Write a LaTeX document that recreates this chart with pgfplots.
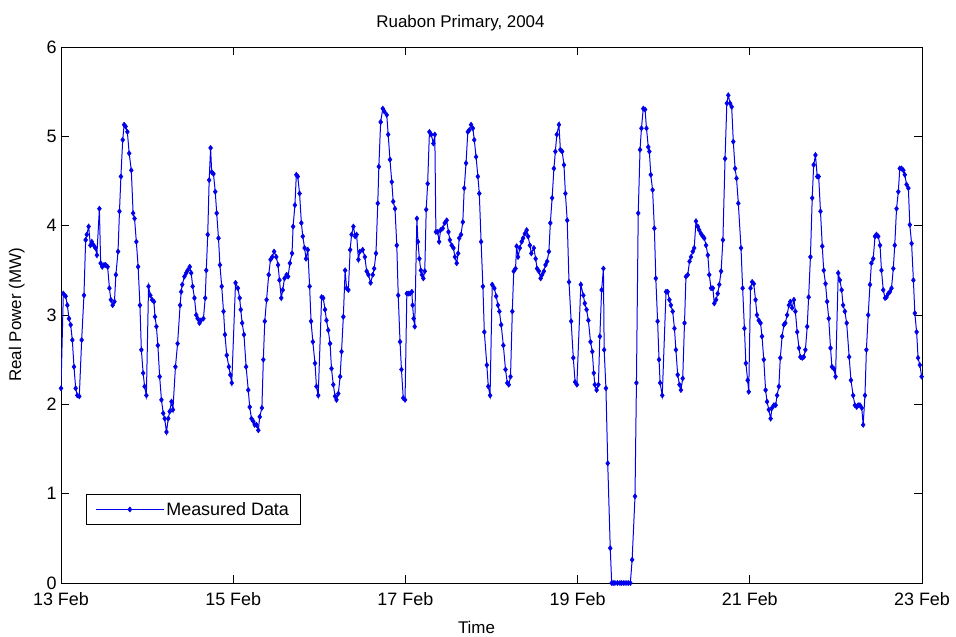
\documentclass[border=0pt]{standalone}
\usepackage{fontspec}
\setmainfont{Liberation Sans}
\usepackage{pgfplots}
\pgfplotsset{compat=1.18}
\definecolor{matblue}{RGB}{0,0,235}

\begin{document}
\begin{tikzpicture}
\begin{axis}[
  scale only axis, width=861bp, height=536bp,
  xmin=0, xmax=240, ymin=0, ymax=6,
  xtick={0,48,96,144,192,240},
  xticklabels={13 Feb,15 Feb,17 Feb,19 Feb,21 Feb,23 Feb},
  ytick={0,1,2,3,4,5,6},
  tick align=inside, tick pos=both, major tick length=8bp,
  axis line style={line width=0.8bp}, tick style={line width=0.8bp, black},
  /pgf/number format/assume math mode=true,
  font=\fontsize{17}{20}\selectfont,
  tick label style={font=\fontsize{18}{21}\selectfont},
  xticklabel style={yshift=-6bp},
  yticklabel style={xshift=-1bp},
  title={Ruabon Primary, 2004},
  title style={yshift=6bp, xshift=-31bp},
  xlabel={Time}, ylabel={Real Power (MW)},
  xlabel style={yshift=-9bp, xshift=-15bp}, ylabel style={yshift=15bp},
  legend style={at={(0.029,0.108)}, anchor=south west, draw=black,
    line width=0.8bp, font=\fontsize{18}{21}\selectfont,
    inner xsep=9bp, inner ysep=6bp},
  legend cell align=left,
  legend image code/.code={
    \draw[mark repeat=2, mark phase=2] plot coordinates {(0bp,0bp) (34bp,0bp) (68bp,0bp)};},
]
\addplot[matblue, line width=1bp, mark=diamond*, mark size=2.6bp,
  mark options={fill=matblue, draw=matblue, line width=0.5bp}] coordinates {
(0,2.18)(0.65,3.24)(1.3,3.21)(1.77,3.11)(2.23,2.96)(2.69,2.89)(3.16,2.72)(3.62,2.42)(4.09,2.18)(4.55,2.10)
(5.1,2.09)(5.76,2.72)(6.4,3.22)(6.87,3.84)(7.2,3.90)(7.7,3.99)(8.2,3.78)(8.6,3.82)(9.1,3.78)(9.6,3.75)
(10.0,3.67)(10.7,4.19)(11.05,3.58)(11.5,3.54)(12.0,3.56)(12.45,3.56)(13.0,3.54)(13.5,3.30)(13.9,3.17)(14.4,3.11)
(14.9,3.15)(15.3,3.45)(15.9,3.71)(16.3,4.16)(16.7,4.55)(17.2,4.96)(17.6,5.13)(18.0,5.11)(18.5,5.05)(19.0,4.81)
(19.6,4.62)(20.1,4.14)(20.5,4.08)(21.0,3.82)(21.5,3.54)(22.0,3.11)(22.4,2.61)(22.9,2.35)(23.3,2.20)(23.8,2.10)
(24.4,3.32)(24.9,3.22)(25.4,3.17)(25.9,3.15)(26.2,2.98)(26.6,2.87)(27.0,2.66)(27.5,2.31)(28.0,2.05)(28.5,1.90)
(28.9,1.84)(29.4,1.69)(29.9,1.84)(30.3,1.92)(30.8,2.03)(31.2,1.94)(31.9,2.42)(32.5,2.68)(33.2,3.11)(33.5,3.26)
(33.8,3.34)(34.4,3.43)(34.9,3.47)(35.3,3.50)(35.9,3.54)(36.3,3.47)(36.7,3.32)(37.2,3.19)(37.7,3.00)(38.1,2.96)
(38.6,2.91)(39.0,2.94)(39.7,2.96)(40.2,3.19)(40.5,3.50)(40.9,3.90)(41.3,4.51)(41.7,4.87)(42.0,4.60)(42.5,4.58)
(43.0,4.38)(43.4,4.14)(43.9,3.86)(44.3,3.56)(44.8,3.32)(45.3,3.04)(45.7,2.78)(46.2,2.55)(46.8,2.42)(47.2,2.33)(47.6,2.24)
(48.65,3.36)(49.3,3.30)(49.8,3.19)(50.1,3.06)(50.5,2.91)(51.0,2.78)(51.6,2.42)(52.2,2.16)(52.6,1.97)(53.1,1.84)
(53.6,1.81)(54.0,1.77)(54.5,1.77)(55.0,1.71)(55.4,1.86)(56.0,1.96)(56.4,2.50)(56.8,2.93)(57.3,3.17)(57.9,3.45)
(58.4,3.62)(58.9,3.65)(59.4,3.71)(60.0,3.65)(60.5,3.56)(60.9,3.39)(61.4,3.19)(61.8,3.28)(62.3,3.41)(62.9,3.45)
(63.3,3.43)(63.8,3.58)(64.4,3.69)(64.7,3.99)(65.2,4.23)(65.6,4.57)(66.0,4.55)(66.5,4.36)(67.0,4.03)(67.4,3.88)
(67.9,3.75)(68.3,3.63)(68.8,3.73)(69.3,3.32)(69.7,2.93)(70.2,2.70)(70.8,2.46)(71.2,2.20)(71.7,2.10)
(72.65,3.20)(73.1,3.19)(73.6,3.06)(74.0,2.94)(74.5,2.83)(75.0,2.68)(75.4,2.40)(75.9,2.22)(76.4,2.09)(76.8,2.05)
(77.3,2.12)(77.8,2.31)(78.2,2.59)(78.7,2.98)(79.2,3.50)(79.6,3.30)(80.1,3.28)(80.6,3.73)(81.0,3.90)(81.5,3.99)
(82.0,3.88)(82.4,3.90)(82.9,3.62)(83.3,3.71)(84.1,3.73)(84.7,3.65)(85.2,3.49)(85.7,3.45)(86.3,3.36)(86.9,3.45)
(87.3,3.52)(87.8,3.69)(88.3,4.25)(88.6,4.66)(89.1,5.16)(89.7,5.31)(90.1,5.28)(90.8,5.24)(91.2,5.02)(91.7,4.74)
(92.2,4.49)(92.6,4.27)(93.1,4.19)(93.6,3.78)(94.0,3.22)(94.5,2.70)(94.9,2.39)(95.4,2.07)(95.9,2.05)
(96.4,3.24)(96.8,3.24)(97.3,3.24)(97.8,3.26)(98.0,3.11)(98.3,2.96)(98.6,2.87)(99.2,4.08)(99.5,3.82)(99.9,3.63)
(100.3,3.50)(100.6,3.45)(101.0,3.41)(101.4,3.49)(101.8,4.18)(102.2,4.47)(102.7,5.05)(103.2,5.02)(103.8,4.92)(104.2,5.02)
(104.5,3.93)(105.0,3.93)(105.4,3.82)(105.8,3.95)(106.4,3.97)(106.96,4.03)(107.5,4.06)(108.0,3.93)(108.4,3.84)(108.9,3.78)
(109.4,3.75)(109.8,3.65)(110.3,3.58)(110.7,3.69)(111.0,3.86)(111.5,3.90)(112.0,4.04)(112.4,4.42)(112.9,4.70)(113.4,5.05)
(113.8,5.07)(114.3,5.13)(114.8,5.09)(115.2,4.96)(115.7,4.77)(116.2,4.55)(116.6,4.36)(117.1,3.82)(117.6,3.32)(118.0,2.81)
(118.7,2.44)(119.1,2.20)(119.6,2.10)
(120.2,3.34)(120.8,3.30)(121.3,3.21)(121.8,3.11)(122.2,3.04)(122.7,2.89)(123.3,2.66)(123.9,2.39)(124.4,2.24)(124.8,2.22)
(125.3,2.31)(125.8,3.04)(126.2,3.49)(126.7,3.52)(127.0,3.77)(127.4,3.65)(127.9,3.75)(128.4,3.82)(128.8,3.86)(129.3,3.91)
(129.8,3.95)(130.2,3.88)(130.7,3.78)(131.1,3.69)(131.8,3.75)(132.3,3.63)(132.7,3.52)(133.2,3.49)(133.7,3.41)(134.1,3.45)
(134.6,3.49)(135.05,3.56)(135.5,3.60)(136.0,3.71)(136.4,4.03)(136.9,4.31)(137.4,4.64)(137.8,4.83)(138.2,5.02)(138.8,5.13)
(139.2,4.85)(139.7,4.83)(140.2,4.68)(140.6,4.36)(141.1,4.06)(141.6,3.37)(142.2,2.93)(142.8,2.52)(143.3,2.25)(143.8,2.22)
(144.9,3.34)(145.6,3.22)(146.0,3.13)(146.5,3.06)(147.0,2.94)(147.6,2.70)(148.1,2.59)(148.5,2.35)(148.8,2.22)(149.3,2.16)
(149.8,2.22)(150.2,2.76)(150.7,3.28)(151.2,3.52)(151.4,2.61)(151.9,2.18)(152.4,1.34)(153.1,0.39)(153.5,0)(153.9,0)
(154.4,0)(155.1,0)(155.8,0)(156.3,0)(156.9,0)(157.5,0)(158.1,0)(158.7,0)(159.2,0.26)(160.0,0.97)
(160.4,2.24)(160.9,4.14)(161.4,4.85)(161.8,5.09)(162.3,5.31)(162.8,5.30)(163.2,5.09)(163.7,4.88)(164.0,4.83)(164.4,4.57)
(164.9,4.40)(165.4,3.97)(165.8,3.41)(166.3,2.93)(166.7,2.50)(167.0,2.24)(167.6,2.10)
(168.65,3.26)(169.1,3.26)(169.6,3.17)(170.0,3.11)(170.5,3.04)(171.0,2.85)(171.4,2.61)(171.9,2.33)(172.4,2.22)(172.8,2.16)
(173.3,2.29)(173.8,2.91)(174.2,3.43)(174.7,3.45)(175.2,3.60)(175.6,3.65)(176.1,3.71)(176.5,3.75)(177.0,4.05)(177.5,3.99)
(177.9,3.95)(178.4,3.91)(178.9,3.88)(179.3,3.86)(179.8,3.78)(180.3,3.67)(180.7,3.45)(181.2,3.30)(181.7,3.30)(182.1,3.13)
(182.6,3.17)(183.05,3.24)(183.5,3.34)(184.0,3.49)(184.5,3.84)(185.1,4.75)(185.6,5.37)(186.0,5.46)(186.5,5.37)(186.95,5.33)
(187.4,4.94)(187.9,4.64)(188.3,4.53)(188.8,4.25)(189.55,3.75)(190.0,3.30)(190.5,2.85)(190.9,2.46)(191.4,2.27)(191.7,2.14)
(192.2,3.30)(192.65,3.37)(193.1,3.35)(193.6,3.17)(194.0,3.00)(194.5,2.94)(195.0,2.91)(195.4,2.76)(195.9,2.50)(196.4,2.16)
(196.8,2.03)(197.3,1.94)(197.8,1.84)(198.2,1.96)(198.7,1.99)(199.2,1.99)(199.6,2.10)(200.1,2.20)(200.5,2.52)(201.0,2.76)
(201.5,2.89)(201.9,2.91)(202.4,3.00)(202.9,3.11)(203.3,3.15)(203.8,3.08)(204.3,3.17)(204.7,3.04)(205.2,2.81)(205.7,2.63)
(206.1,2.53)(206.6,2.52)(207.05,2.53)(207.5,2.61)(208.0,2.87)(208.4,3.20)(208.9,3.65)(209.4,4.31)(209.8,4.68)(210.3,4.79)
(210.8,4.55)(211.2,4.55)(211.7,4.16)(212.2,3.77)(212.6,3.50)(213.1,3.35)(213.55,3.15)(214.0,2.96)(214.5,2.63)(214.9,2.42)
(215.4,2.40)(215.9,2.31)
(216.65,3.47)(217.1,3.39)(217.6,3.28)(218.0,3.11)(218.5,3.04)(219.0,2.91)(219.7,2.53)(220.2,2.27)(220.8,2.10)(221.3,1.99)
(221.8,1.97)(222.2,1.99)(222.7,1.99)(223.2,1.96)(223.6,1.77)(224.1,2.10)(224.5,2.61)(225.0,3.00)(225.5,3.34)(225.9,3.58)
(226.4,3.63)(226.9,3.88)(227.3,3.90)(227.8,3.88)(228.3,3.78)(228.7,3.50)(229.2,3.28)(229.7,3.19)(230.1,3.20)(230.6,3.24)
(231.05,3.26)(231.5,3.30)(232.0,3.52)(232.4,3.78)(232.9,4.19)(233.4,4.38)(233.8,4.64)(234.3,4.64)(234.8,4.62)(235.2,4.57)
(235.7,4.46)(236.2,4.42)(236.6,4.01)(237.1,3.80)(237.6,3.39)(238.0,3.02)(238.5,2.81)(238.9,2.52)(239.4,2.44)(239.9,2.31)
};
\addlegendentry{Measured Data}
\end{axis}
\pgfresetboundingbox
\path (current axis.south west) ++(-61bp,-54bp) rectangle ++(956bp,637bp);
\end{tikzpicture}
\end{document}
